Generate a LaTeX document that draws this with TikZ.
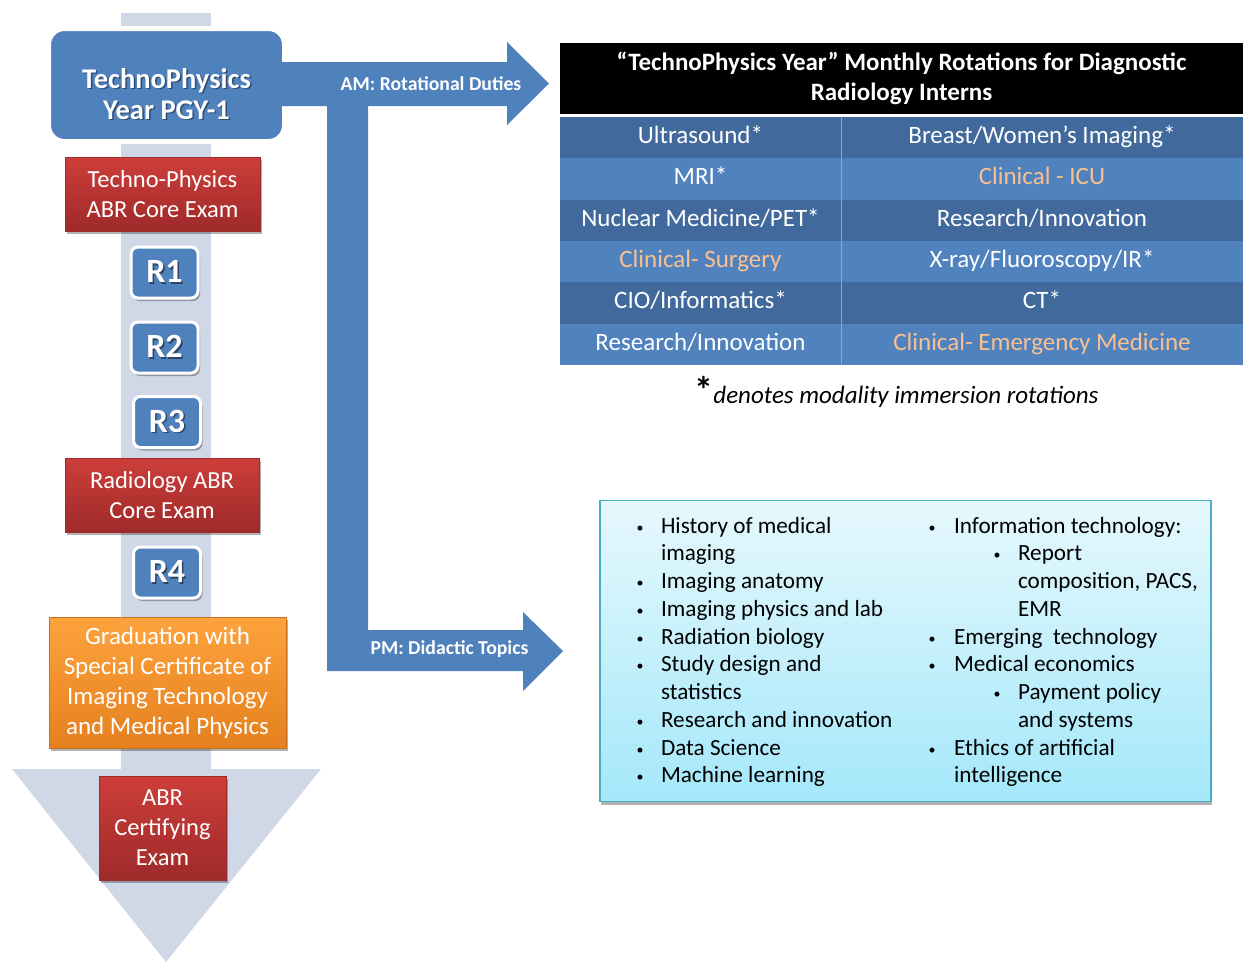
\documentclass[tikz,border=0pt]{standalone}
\usepackage{fontspec}
\setmainfont{Carlito}
\usetikzlibrary{shadows}
\definecolor{barcol}{HTML}{D0D8E8}
\definecolor{blueA}{HTML}{4F81BD}
\definecolor{rowdark}{HTML}{41699C}
\definecolor{rowlight}{HTML}{5082BE}
\definecolor{redtop}{HTML}{CD3E3A}
\definecolor{redbot}{HTML}{9E2A2A}
\definecolor{orgtop}{HTML}{FDA33D}
\definecolor{orgbot}{HTML}{E5801F}
\definecolor{orgline}{HTML}{C8711E}
\definecolor{cyantop}{HTML}{E6F8FD}
\definecolor{cyanbot}{HTML}{A4E8FA}
\definecolor{cyanline}{HTML}{4BACC6}
\definecolor{clin}{HTML}{FAC090}
\newcommand\fsz[2]{\fontsize{#1}{#2}\selectfont}
\begin{document}
\begin{tikzpicture}[x=1pt,y=-1pt,
  every node/.style={inner sep=0pt, outer sep=0pt},
  shd/.style={drop shadow={shadow xshift=2pt, shadow yshift=-3pt, opacity=0.3, fill=black}},
  redbox/.style={shd, rectangle, top color=redtop, bottom color=redbot, draw=redbot, line width=0.5pt, text=white, align=center, font=\fsz{24.5}{30}},
  orgbox/.style={shd, rectangle, top color=orgtop, bottom color=orgbot, draw=orgline, line width=1pt, text=white, align=center, font=\fsz{25}{30}},
  rbox/.style={shd, rectangle, rounded corners=7pt, fill=blueA, draw=white, line width=3pt, minimum width=67pt, minimum height=51pt},
  rtxt/.style={font=\bfseries\fsz{34}{34}},
  tpbox/.style={rectangle, rounded corners=16pt, fill=blueA, draw=white, line width=5pt, minimum width=236pt, minimum height=113pt},
  tptxt/.style={font=\bfseries\fsz{28.5}{31}, align=center},
  arrowlbl/.style={font=\bfseries\fsz{19.7}{21}, text=white, anchor=base},
  hdr/.style={rectangle, fill=black, text=white, align=center, font=\bfseries\fsz{25}{30}, minimum width=683pt, minimum height=71pt},
  cellA/.style={rectangle, minimum width=281pt, minimum height=41.33pt, text=white, font=\fsz{25}{28}, text height=16.5pt, text depth=5pt},
  cellB/.style={cellA, minimum width=402pt},
  dk/.style={fill=rowdark},
  lt/.style={fill=rowlight},
  didbox/.style={rectangle, top color=cyantop, bottom color=cyanbot, draw=cyanline, line width=1.5pt, minimum width=611pt, minimum height=301pt, drop shadow={shadow xshift=1pt, shadow yshift=-3pt, opacity=0.3, fill=black}},
  li/.style={anchor=base west, font=\fsz{23.2}{28}, text=black},
  bul/.style={anchor=base, font=\fsz{14}{28}, text=black}
]
\useasboundingbox (0,0) rectangle (1243,962);

% background flow bar with big down arrow
\fill[barcol] (121,13) rectangle (211,770);
\fill[barcol] (12,769) -- (321,769) -- (166,962) -- cycle;

% TechnoPhysics box
\node[tpbox] (tp) at (166.5,85) {};

% block arrows AM / PM
\fill[blueA] (281,62) -- (507,62) -- (507,42) -- (549,83.5) -- (507,125) -- (507,106)
  -- (368,106) -- (368,630) -- (523,630) -- (523,612) -- (563,651) -- (523,691) -- (523,671)
  -- (327,671) -- (327,106) -- (281,106) -- cycle;
\node[arrowlbl] (am) at (431,90) {AM: Rotational Duties};
\node[arrowlbl] (pm) at (449.5,654) {PM: Didactic Topics};

\node[tptxt, text=black, opacity=0.4] (tps) at (168,95.5) {TechnoPhysics\\Year PGY-1};
\node[tptxt, text=white] (tpt) at (166.5,94) {TechnoPhysics\\Year PGY-1};

% left column
\node[redbox, minimum width=195pt, minimum height=74pt] (ex1) at (162.5,194) {Techno-Physics\\ABR Core Exam};

\node[rbox] (r1) at (164.5,272.5) {};
\node[rtxt, text=black, opacity=0.45] (r1s) at (166,273) {R1};
\node[rtxt, text=white] (r1t) at (164.5,271.5) {R1};

\node[rbox] (r2) at (164.5,347.5) {};
\node[rtxt, text=black, opacity=0.45] (r2s) at (166,348) {R2};
\node[rtxt, text=white] (r2t) at (164.5,346.5) {R2};

\node[rbox] (r3) at (167,422) {};
\node[rtxt, text=black, opacity=0.45] (r3s) at (168.5,422.5) {R3};
\node[rtxt, text=white] (r3t) at (167,421) {R3};

\node[redbox, minimum width=194pt, minimum height=74pt] (ex2) at (162,495) {Radiology ABR\\Core Exam};

\node[rbox] (r4) at (167,572.5) {};
\node[rtxt, text=black, opacity=0.45] (r4s) at (168.5,573) {R4};
\node[rtxt, text=white] (r4t) at (167,571.5) {R4};

\node[orgbox, minimum width=237pt, minimum height=131pt] (grad) at (167.5,682.5) {Graduation with\\Special Certificate of\\Imaging Technology\\and Medical Physics};

\node[redbox, minimum width=127pt, minimum height=104pt] (cert) at (162.5,828) {ABR\\Certifying\\Exam};

% table
\node[hdr] (hdr) at (901.5,78.5) {“TechnoPhysics Year” Monthly Rotations for Diagnostic\\Radiology Interns};

\node[cellA, dk] (c11) at (700.5,137.67) {Ultrasound*};
\node[cellB, dk] (c12) at (1042,137.67) {Breast/Women’s Imaging*};
\node[cellA, lt] (c21) at (700.5,179) {MRI*};
\node[cellB, lt, text=clin] (c22) at (1042,179) {Clinical - ICU};
\node[cellA, dk] (c31) at (700.5,220.33) {Nuclear Medicine/PET*};
\node[cellB, dk] (c32) at (1042,220.33) {Research/Innovation};
\node[cellA, lt, text=clin] (c41) at (700.5,261.67) {Clinical- Surgery};
\node[cellB, lt] (c42) at (1042,261.67) {X-ray/Fluoroscopy/IR*};
\node[cellA, dk] (c51) at (700.5,303) {CIO/Informatics*};
\node[cellB, dk] (c52) at (1042,303) {CT*};
\node[cellA, lt] (c61) at (700.5,344.33) {Research/Innovation};
\node[cellB, lt, text=clin] (c62) at (1042,344.33) {Clinical- Emergency Medicine};
\draw[rowlight!70!white, line width=0.8pt] (c11.north east) -- (c61.south east);

\node[anchor=base, font=\fsz{25}{28}] (note) at (896.5,403) {{\fsz{38}{38}\bfseries *}\itshape denotes modality immersion rotations};

% didactic topics
\node[didbox] (did) at (905.5,651) {};
\foreach \t/\y [count=\i] in {History of medical/533, imaging/560.75, Imaging anatomy/588.5, Imaging physics and lab/616.25, Radiation biology/644, Study design and/671.75, statistics/699.5, Research and innovation/727.25, Data Science/755, Machine learning/782.75}{
  \node[li] (la\i) at (661,\y) {\t};
}
\foreach \y [count=\i] in {533, 588.5, 616.25, 644, 671.75, 727.25, 755, 782.75}{
  \node[bul] (lb\i) at (640,\y-1) {•};
}
\foreach \t/\y [count=\i] in {Information technology:/533, Emerging\ \ technology/644, Medical economics/671.75, Ethics of artificial/755, intelligence/782.75}{
  \node[li] (ra\i) at (954,\y) {\t};
}
\foreach \y [count=\i] in {533, 644, 671.75, 755}{
  \node[bul] (rb\i) at (932,\y-1) {•};
}
\foreach \t/\y [count=\i] in {Report/560.75, {composition, PACS,}/588.5, EMR/616.25, Payment policy/699.5, and systems/727.25}{
  \node[li] (sa\i) at (1018,\y) {\t};
}
\foreach \y [count=\i] in {560.75, 699.5}{
  \node[bul] (sb\i) at (997,\y-1) {•};
}
\end{tikzpicture}
\end{document}
